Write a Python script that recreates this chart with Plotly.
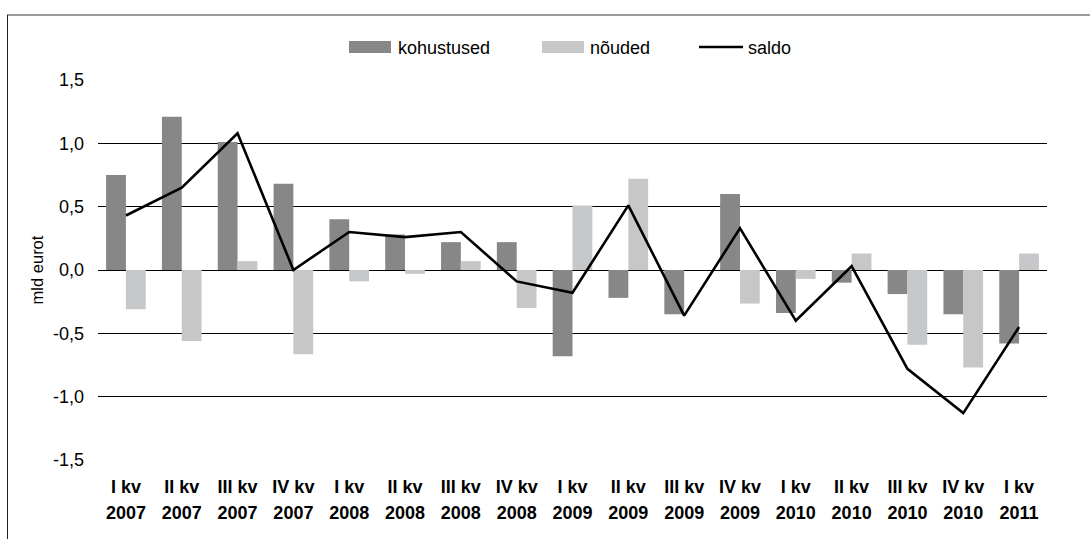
import plotly.graph_objects as go

quarters = ["I kv", "II kv", "III kv", "IV kv", "I kv", "II kv", "III kv", "IV kv",
            "I kv", "II kv", "III kv", "IV kv", "I kv", "II kv", "III kv", "IV kv", "I kv"]
years = ["2007", "2007", "2007", "2007", "2008", "2008", "2008", "2008",
         "2009", "2009", "2009", "2009", "2010", "2010", "2010", "2010", "2011"]
kohustused = [0.75, 1.21, 1.01, 0.68, 0.40, 0.28, 0.22, 0.22,
              -0.68, -0.22, -0.35, 0.60, -0.34, -0.10, -0.19, -0.35, -0.58]
nouded = [-0.31, -0.56, 0.07, -0.665, -0.09, -0.03, 0.07, -0.30,
          0.51, 0.72, 0.0, -0.265, -0.07, 0.13, -0.59, -0.77, 0.13]
saldo = [0.43, 0.65, 1.08, 0.0, 0.30, 0.26, 0.30, -0.09,
         -0.18, 0.51, -0.36, 0.33, -0.40, 0.03, -0.78, -1.13, -0.45]
y_ticks = [-1.5, -1.0, -0.5, 0.0, 0.5, 1.0, 1.5]
y_ticktext = ["-1,5", "-1,0", "-0,5", "0,0", "0,5", "1,0", "1,5"]

DARK = "#878787"
LIGHT = "#c6c7c8"
FONT = "Liberation Sans, Arial, Helvetica, sans-serif"

x = list(range(len(quarters)))

fig = go.Figure()
fig.add_trace(go.Bar(x=x, y=kohustused, name="kohustused", marker=dict(color=DARK, line=dict(width=0)), showlegend=False))
fig.add_trace(go.Bar(x=x, y=nouded, name="nõuded", marker=dict(color=LIGHT, line=dict(width=0)), showlegend=False))
fig.add_trace(go.Scatter(x=x, y=saldo, name="saldo", mode="lines", line=dict(color="black", width=2.6), showlegend=False))
# empty helper trace so the second (year) tick row is rendered
fig.add_trace(go.Scatter(x=x, y=[None] * len(x), xaxis="x2", mode="lines", showlegend=False, hoverinfo="skip"))

W, H = 1090, 539
L, R, T, B = 98, 43, 80, 79
pw, ph = W - L - R, H - T - B

def px(xp):
    return (xp - L) / pw

def py(yp):
    return (H - B - yp) / ph

shapes = [
    dict(type="line", xref="paper", yref="paper", x0=px(7), x1=px(1090), y0=py(15), y1=py(15),
         line=dict(color="#7a7a7a", width=1.5)),
    dict(type="line", xref="paper", yref="paper", x0=px(7.5), x1=px(7.5), y0=py(15), y1=py(539),
         line=dict(color="#222222", width=1)),
    dict(type="rect", xref="paper", yref="paper", x0=px(349), x1=px(391), y0=py(53), y1=py(41),
         fillcolor=DARK, line=dict(width=0)),
    dict(type="rect", xref="paper", yref="paper", x0=px(542), x1=px(584), y0=py(53), y1=py(41),
         fillcolor=LIGHT, line=dict(width=0)),
    dict(type="line", xref="paper", yref="paper", x0=px(699), x1=px(743), y0=py(47), y1=py(47),
         line=dict(color="black", width=2.6)),
]
annotations = [
    dict(text="kohustused", xref="paper", yref="paper", x=px(396), y=py(48), xanchor="left", yanchor="middle",
         showarrow=False, font=dict(size=18, color="black", family=FONT)),
    dict(text="nõuded", xref="paper", yref="paper", x=px(588), y=py(48), xanchor="left", yanchor="middle",
         showarrow=False, font=dict(size=18, color="black", family=FONT)),
    dict(text="saldo", xref="paper", yref="paper", x=px(746), y=py(48), xanchor="left", yanchor="middle",
         showarrow=False, font=dict(size=18, color="black", family=FONT)),
]

fig.update_layout(
    width=W, height=H,
    margin=dict(l=L, r=R, t=T, b=B, autoexpand=False),
    paper_bgcolor="white", plot_bgcolor="white",
    barmode="group", bargap=0.29, bargroupgap=0,
    font=dict(family=FONT, color="black"),
    shapes=shapes, annotations=annotations,
    xaxis=dict(tickmode="array", tickvals=x, ticktext=[f"<b>{q}</b>" for q in quarters],
               range=[-0.5, len(x) - 0.5],
               showgrid=False, zeroline=False, showline=False, ticks="",
               tickfont=dict(size=18, color="black", family=FONT), ticklabelstandoff=14),
    xaxis2=dict(overlaying="x", anchor="y", side="bottom", tickmode="array", tickvals=x,
                ticktext=[f"<b>{y}</b>" for y in years], range=[-0.5, len(x) - 0.5],
                showgrid=False, zeroline=False, showline=False, ticks="",
                tickfont=dict(size=18, color="black", family=FONT), ticklabelstandoff=40),
    yaxis=dict(range=[-1.5, 1.5], tickmode="array", tickvals=y_ticks, ticktext=y_ticktext,
               showgrid=True, gridcolor="black", gridwidth=1, zeroline=True, zerolinecolor="black",
               zerolinewidth=1, showline=False, ticks="",
               tickfont=dict(size=18, color="black", family=FONT), ticklabelstandoff=13,
               title=dict(text="mld eurot", font=dict(size=16.5, color="black", family=FONT), standoff=5)),
)

fig.write_html("out.html", config={"displayModeBar": False},
               post_script="document.body.style.margin='0';document.body.style.overflow='hidden';")
